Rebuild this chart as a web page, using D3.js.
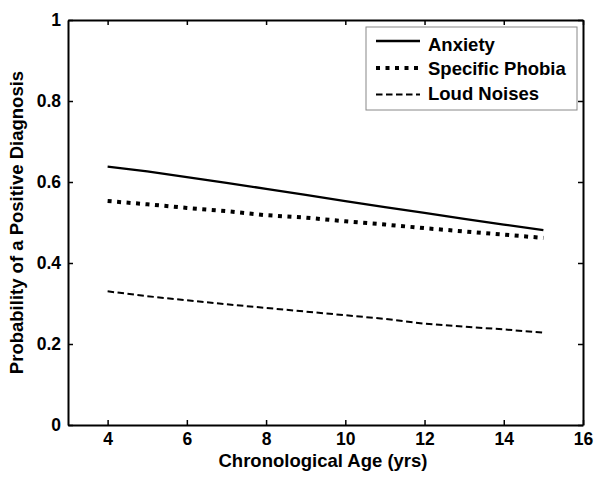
<!DOCTYPE html>
<html><head><meta charset="utf-8">
<script src="https://cdn.jsdelivr.net/npm/d3@7"></script>
<style>body{margin:0;background:#fff;} svg{display:block;} text{font-family:Arial,"Liberation Sans",sans-serif;font-weight:bold;}</style>
</head><body>
<svg id="c" width="601" height="480"></svg>
<script>
const ages = [4,5,6,7,8,9,10,11,12,13,14,15];
const anxiety = [0.638,0.626,0.612,0.598,0.583,0.568,0.553,0.538,0.524,0.509,0.495,0.481];
const specificPhobia = [0.553,0.545,0.536,0.528,0.518,0.512,0.503,0.495,0.486,0.478,0.470,0.462];
const loudNoises = [0.330,0.318,0.308,0.298,0.289,0.280,0.271,0.262,0.250,0.243,0.236,0.228];
const seriesNames = ["Anxiety","Specific Phobia","Loud Noises"];
const xTicks = [4,6,8,10,12,14,16];
const yTicks = [0,0.2,0.4,0.6,0.8,1];

const svg = d3.select("#c");
const m = {l:68, r:18, t:20, b:55};
const W = 601, H = 480;
const x = d3.scaleLinear().domain([3,16]).range([m.l, W-m.r]);
const y = d3.scaleLinear().domain([0,1]).range([H-m.b, m.t]);

const styles = [
  {w:2.3, dash:null},
  {w:4, dash:"4,5.5"},
  {w:2, dash:"6.5,3.5"}
];
const data = [anxiety, specificPhobia, loudNoises];

const line = d3.line().x((d,i)=>x(ages[i])).y(d=>y(d));
data.forEach((s,k)=>{
  svg.append("path").datum(s).attr("d",line).attr("fill","none")
    .attr("stroke","#000").attr("stroke-width",styles[k].w)
    .attr("stroke-dasharray",styles[k].dash);
});

const fmt = d => d===0||d===1 ? String(d) : d3.format(".1f")(d);
const gx = svg.append("g").attr("transform",`translate(0,${y(0)})`)
  .call(d3.axisBottom(x).tickValues(xTicks).tickSizeInner(-5).tickSizeOuter(0));
const gxt = svg.append("g").attr("transform",`translate(0,${y(1)})`)
  .call(d3.axisTop(x).tickValues(xTicks).tickSizeInner(-5).tickSizeOuter(0).tickFormat(""));
const gy = svg.append("g").attr("transform",`translate(${x(3)},0)`)
  .call(d3.axisLeft(y).tickValues(yTicks).tickSizeInner(-5).tickSizeOuter(0).tickPadding(7).tickFormat(fmt));
const gyr = svg.append("g").attr("transform",`translate(${x(16)},0)`)
  .call(d3.axisRight(y).tickValues(yTicks).tickSizeInner(-5).tickSizeOuter(0).tickFormat(""));
[gx,gxt,gy,gyr].forEach(g=>{
  g.selectAll(".domain").attr("stroke","#000").attr("stroke-width",2);
  g.selectAll(".tick line").attr("stroke","#000").attr("stroke-width",1.5);
  g.selectAll("text").attr("font-size",17.5).attr("fill","#000")
    .attr("font-family","Arial, 'Liberation Sans', sans-serif").attr("font-weight","bold");
});
gx.selectAll("text").attr("y",20).attr("dy",0);

svg.append("text").attr("x",323).attr("y",467).attr("text-anchor","middle")
  .attr("font-size",18.5).text("Chronological Age (yrs)");
svg.append("text").attr("transform",`translate(23,${(y(0)+y(1))/2}) rotate(-90)`)
  .attr("text-anchor","middle").attr("font-size",18.5).text("Probability of a Positive Diagnosis");

// legend
const lg = svg.append("g");
lg.append("rect").attr("x",366).attr("y",27).attr("width",211).attr("height",83)
  .attr("fill","#fff").attr("stroke","#888").attr("stroke-width",1);
const lineY = [41,68,94.5];
const textY = [51,75,100];
seriesNames.forEach((n,k)=>{
  lg.append("line").attr("x1",376).attr("x2",420).attr("y1",lineY[k]).attr("y2",lineY[k])
    .attr("stroke","#000").attr("stroke-width",styles[k].w).attr("stroke-dasharray",styles[k].dash);
  lg.append("text").attr("x",428).attr("y",textY[k]).attr("font-size",18.5).text(n);
});
</script>
</body></html>
